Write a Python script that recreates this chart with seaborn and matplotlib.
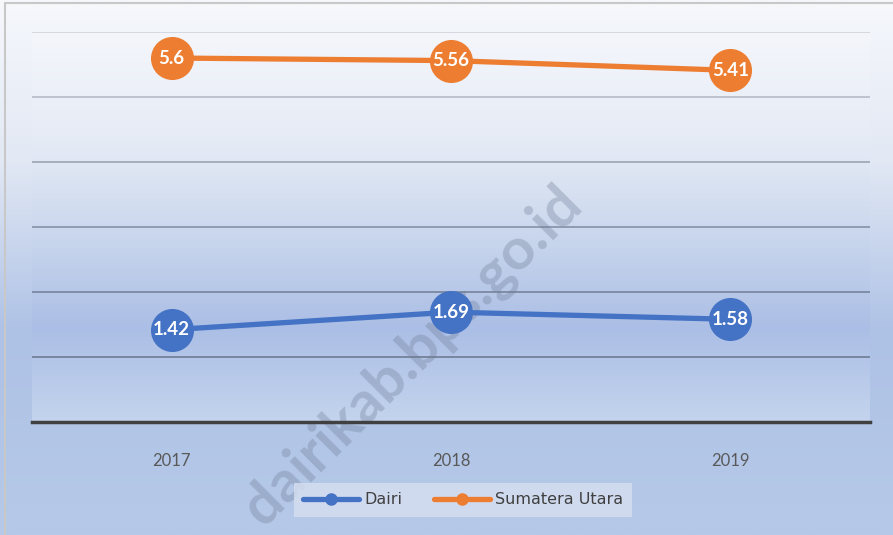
import numpy as np
import pandas as pd
import matplotlib
matplotlib.use("Agg")
import matplotlib.pyplot as plt
import seaborn as sns
from matplotlib.colors import LinearSegmentedColormap
from matplotlib.lines import Line2D
from matplotlib.patches import Rectangle

years = ["2017", "2018", "2019"]
dairi = [1.42, 1.69, 1.58]
sumut = [5.6, 5.56, 5.41]
series_names = ["Dairi", "Sumatera Utara"]
colors = ["#4472C4", "#ED7D31"]

df = pd.DataFrame({
    "Tahun": years * 2,
    "Nilai": dairi + sumut,
    "Seri": [series_names[0]] * 3 + [series_names[1]] * 3,
})

sns.set_theme(style="white")
plt.rcParams['font.family'] = ['DejaVu Sans']

fig = plt.figure(figsize=(8.93, 5.35), dpi=100)

# figure background gradient
bg = fig.add_axes([0, 0, 1, 1], zorder=-10)
grad = np.linspace(0, 1, 256).reshape(-1, 1)
cmap_fig = LinearSegmentedColormap.from_list(
    "figbg", [(0, "#f6f8fc"), (0.3, "#e2e8f4"), (0.62, "#aec2e6"), (1, "#b6c9e8")])
bg.imshow(grad, aspect="auto", cmap=cmap_fig, extent=[0, 1, 0, 1], origin="upper")
bg.set_axis_off()
bg.add_patch(Rectangle((0.006, -0.01), 1.1, 1.004, transform=bg.transAxes,
                       fill=False, edgecolor="#c8c8c8", linewidth=1.5))

ax = fig.add_axes([32 / 893, 1 - 422 / 535, (870 - 32) / 893, (422 - 32) / 535])
ax.set_facecolor("none")
cmap_ax = LinearSegmentedColormap.from_list(
    "axbg", [(0, "#f4f6fb"), (0.3, "#e4eaf5"), (0.55, "#c6d4ec"), (0.76, "#abbee5"), (1, "#c4d4ee")])
ax.imshow(grad, aspect="auto", cmap=cmap_ax, extent=[-0.5, 2.5, 0, 6],
          origin="upper", zorder=0)

# watermark (behind data)
ax.text(412 / 893, 1 - 356 / 535, "dairikab.bps.go.id", rotation=45, ha="center", va="center",
        transform=fig.transFigure, fontsize=42, fontweight="bold",
        family=["Lato", "DejaVu Sans"], color="#6e7c96", alpha=0.34, zorder=2,
        clip_on=False)

grid_vals = [1, 2, 3, 4, 5, 6]
grid_alpha = [0.6, 0.55, 0.5, 0.42, 0.3, 0.2]
for y, a in zip(grid_vals, grid_alpha):
    ax.axhline(y, color="#4a5568", linewidth=1.3, alpha=a, zorder=1)

sns.lineplot(data=df, x="Tahun", y="Nilai", hue="Seri", palette=colors,
             marker="o", markersize=31, linewidth=3.8, markeredgewidth=0,
             ax=ax, legend=False, zorder=3)

ax.set_xlim(-0.5, 2.5)
ax.set_ylim(0, 6)
ax.set_yticks(grid_vals)
ax.tick_params(axis="y", left=False, labelleft=False)
ax.tick_params(axis="x", bottom=False, labelsize=12, labelcolor="#595959", pad=16)
for lbl in ax.get_xticklabels():
    lbl.set_family(["Lato", "DejaVu Sans"])
ax.set_xlabel("")
ax.set_ylabel("")
for s in ["left", "right", "top"]:
    ax.spines[s].set_visible(False)
ax.spines["bottom"].set_color("#404040")
ax.spines["bottom"].set_linewidth(2.5)
ax.spines["bottom"].set_zorder(4)

for vals in [dairi, sumut]:
    for i, v in enumerate(vals):
        ax.text(i, v, f"{v:g}", ha="center", va="center", color="white",
                fontsize=13.5, fontweight="bold", family=["Lato", "DejaVu Sans"], zorder=5)

handles = [Line2D([0], [0], color=c, linewidth=3.8, marker="o", markersize=8)
           for c in colors]
leg = fig.legend(handles, series_names, loc="center", bbox_to_anchor=(463 / 893, 1 - 500 / 535),
                 ncol=2, frameon=True, fontsize=11.5, handlelength=3.5, columnspacing=2.0,
                 handletextpad=0.3, borderpad=0.6, fancybox=False)
leg.set_zorder(30)
leg.get_frame().set_facecolor("#d4def0")
leg.get_frame().set_edgecolor("none")
leg.get_frame().set_alpha(0.85)
for t in leg.get_texts():
    t.set_color("#404040")

fig.savefig("out.png", dpi=100)
